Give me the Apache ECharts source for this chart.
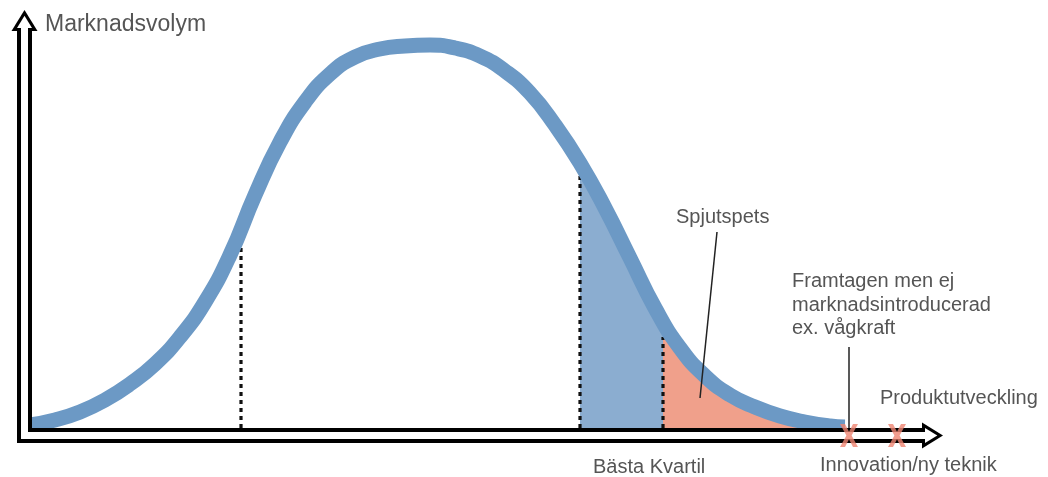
<!DOCTYPE html>
<html><head><meta charset="utf-8">
<script src="https://cdn.jsdelivr.net/npm/echarts@6/dist/echarts.min.js"></script>
<style>html,body{margin:0;padding:0;background:#fff}#c{width:1048px;height:477px}</style>
</head><body><div id="c"></div>
<script>
// Bell curve (x: position along axis, y: market volume)
const curveX = [0, 25, 50, 75, 100, 125, 150, 175, 200, 225, 250, 275, 300, 325, 350, 375, 400,
                425, 450, 475, 500, 525, 550, 575, 600, 625, 650, 675, 700, 725, 750, 775, 800, 815];
const curveY = [3, 8, 16, 28, 44, 64, 91, 126, 173, 233, 286, 326, 354, 371, 379, 382, 383,
                380, 372, 357, 335, 303, 265, 220, 170, 120, 80, 52, 33, 21, 12, 6, 2, 1];
// dotted dividers
const dividerX = [211, 550, 633];
const dividerTop = [192, 255, 91];
// shaded segments
const quartileRange = [550, 633];
const spearRange = [633, 900];
// red crosses on the axis
const crossX = [819, 867];
// leader lines
const spearLeader = [[687, 196], [670, 30]];
const launchLeader = [[819, 81], [819, 0]];
// texts
const yAxisTitle = 'Marknadsvolym';
const spearText = 'Spjutspets';
const launchText = ['Framtagen men ej', 'marknadsintroducerad', 'ex. vågkraft'];
const devText = 'Produktutveckling';
const innovText = 'Innovation/ny teknik';
const quartText = 'Bästa Kvartil';

const curve = curveX.map((x, i) => [x, curveY[i]]);

const FONT = "'Liberation Sans', Arial, sans-serif";
const TXT = '#555555';

const chart = echarts.init(document.getElementById('c'), null, {renderer: 'canvas'});

const blackAxis = (dim) => ({
  gridIndex: 0, type: 'value', z: 4,
  position: dim === 'x' ? 'bottom' : 'left',
  offset: dim === 'x' ? 7.5 : -7.5,
  min: dim === 'x' ? -13 : 0, max: dim === 'x' ? 900.5 : 405.5,
  axisLine: {show: true, onZero: false, symbol: ['none', 'triangle'], symbolSize: [26, 21], symbolOffset: [0, 2],
    lineStyle: {color: '#000', width: 15, cap: 'butt'}},
  axisTick: {show: false}, axisLabel: {show: false}, splitLine: {show: false}
});
const whiteAxis = (dim) => ({
  gridIndex: 1, type: 'value', z: 5,
  position: dim === 'x' ? 'bottom' : 'left',
  offset: dim === 'x' ? 3.5 : -3.5,
  min: 0, max: 1,
  axisLine: {show: true, onZero: false, symbol: ['none', 'triangle'], symbolSize: [15, 12.3], symbolOffset: [0, 0.65],
    lineStyle: {color: '#fff', width: 7, cap: 'butt'}},
  axisTick: {show: false}, axisLabel: {show: false}, splitLine: {show: false}
});

const series = [];
// area sections (series 0), coloured by x ranges through visualMap
series.push({type: 'line', z: 1, data: curve, smooth: true, symbol: 'none',
  lineStyle: {width: 0, opacity: 0}, areaStyle: {opacity: 1}, silent: true});
dividerX.forEach((x, i) => {
  series.push({type: 'line', z: 2, data: [[x, 0], [x, dividerTop[i]]], symbol: 'none',
    lineStyle: {color: '#111', width: 3.2, type: [4, 4]}, silent: true});
});
series.push({type: 'line', z: 3, data: curve, smooth: true, symbol: 'none', clip: false,
  lineStyle: {color: '#6c99c5', width: 15}, silent: true});
[spearLeader, launchLeader].forEach(seg => {
  series.push({type: 'line', z: 6, data: seg, symbol: 'none', clip: false,
    lineStyle: {color: '#222', width: 1.5}, silent: true});
});
series.push({type: 'scatter', z: 7, clip: false, silent: true,
  data: crossX.map(x => [x, -7.5]),
  symbol: 'path://M0,0L5,0L9,7.5L13,0L18,0L11.6,11L18,22L13,22L9,14.5L5,22L0,22L6.4,11Z',
  symbolSize: [18, 23], itemStyle: {color: '#ef8572'}});

const txt = (text, x, y, extra) => ({type: 'text', x, y, z: 10, silent: true,
  style: Object.assign({text, fill: TXT, fontSize: 20, fontFamily: FONT, textVerticalAlign: 'middle', textAlign: 'left'}, extra || {})});

chart.setOption({
  backgroundColor: '#ffffff',
  animation: false,
  grid: [
    {left: 17, top: 22.5, width: 913.5, height: 405.5, containLabel: false, outerBoundsMode: 'none'},
    {left: 21, top: 22.5, width: 909.5, height: 409.5, containLabel: false, outerBoundsMode: 'none'}
  ],
  visualMap: {
    type: 'piecewise', show: false, dimension: 0, seriesIndex: 0,
    pieces: [
      {gte: quartileRange[0], lt: quartileRange[1], color: '#8badd0'},
      {gte: spearRange[0], lte: spearRange[1], color: '#f0a08b'}
    ],
    outOfRange: {color: 'rgba(255,255,255,0)'}
  },
  xAxis: [blackAxis('x'), whiteAxis('x')],
  yAxis: [blackAxis('y'), whiteAxis('y')],
  series,
  graphic: [
    txt(yAxisTitle, 45, 25, {fontSize: 23}),
    txt(spearText, 676, 217),
    txt(launchText.join('\n'), 792, 305, {lineHeight: 23.5}),
    txt(devText, 880, 398),
    txt(innovText, 820, 465),
    txt(quartText, 593, 467)
  ]
});
</script></body></html>
